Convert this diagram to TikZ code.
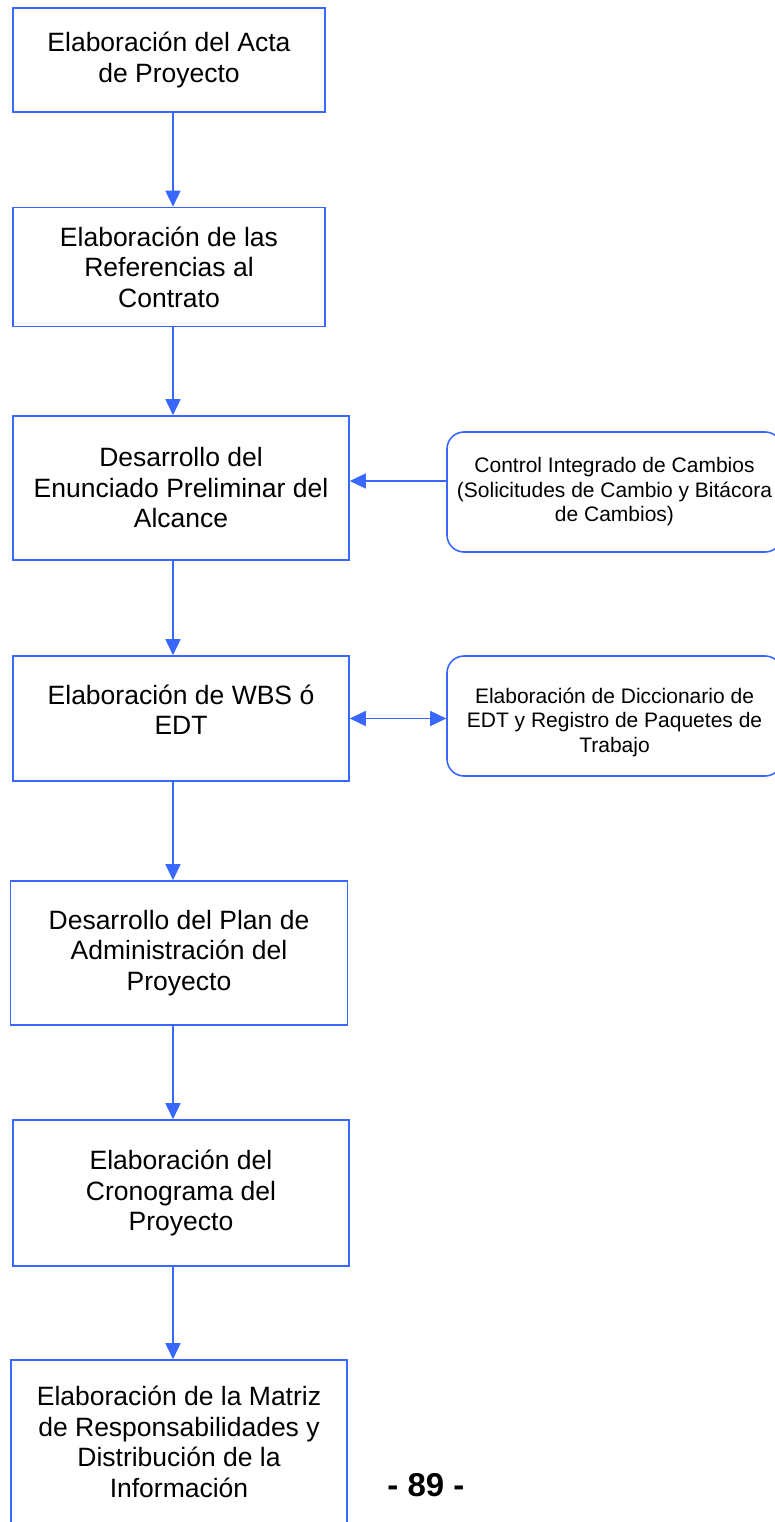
\documentclass[tikz,border=0pt]{standalone}
\usepackage{fontspec}
\setmainfont{Liberation Sans}
\usetikzlibrary{arrows.meta}
\definecolor{flowblue}{RGB}{56,104,255}
\begin{document}
\begin{tikzpicture}%
[x=1pt,y=-1pt,%
stepbox/.style={draw=flowblue, line width=1.6pt, align=center, inner sep=0pt,%
  font=\fontsize{26.5}{30.5}\selectfont},%
sidebox/.style={stepbox, rounded corners=17pt, minimum width=335pt, minimum height=120pt,%
  font=\fontsize{21}{24.5}\selectfont},%
flow/.style={draw=flowblue, line width=1.6pt, -{Triangle[length=16pt,width=15pt]}},%
twoway/.style={flow, {Triangle[length=16pt,width=15pt]}-{Triangle[length=16pt,width=15pt]}}]
\useasboundingbox (0,0) rectangle (775,1522);
\coordinate (spine) at (173,0);
% main sequence
\node[stepbox, minimum width=312pt, minimum height=104pt] (acta) at (169,60)
  {Elaboración del Acta\\de Proyecto};
\node[stepbox, minimum width=312pt, minimum height=119pt] (refs) at (169,267)
  {Elaboración de las\\Referencias al\\Contrato};
\node[stepbox, minimum width=336pt, minimum height=144pt] (alcance) at (181,488)
  {Desarrollo del\\Enunciado Preliminar del\\Alcance};
\node[stepbox, minimum width=336pt, minimum height=125pt] (wbs) at (181,718.5) {};
\node[stepbox, draw=none] at ([yshift=9pt]wbs.center) {Elaboración de WBS ó\\EDT};
\node[stepbox, minimum width=337pt, minimum height=144pt] (plan) at (179,953)
  {Desarrollo del Plan de\\Administración del\\Proyecto};
\node[stepbox, minimum width=336pt, minimum height=146pt] (crono) at (181,1193)
  {Elaboración del\\Cronograma del\\Proyecto};
\node[stepbox, minimum width=336pt, minimum height=164pt] (matriz) at (179,1442)
  {Elaboración de la Matriz\\de Responsabilidades y\\Distribución de la\\Información};
% side boxes
\node[sidebox] (cambios) at (614.5,492)
  {Control Integrado de Cambios\\(Solicitudes de Cambio y Bitácora\\de Cambios)};
\node[sidebox] (dicc) at (614.5,716) {};
\node[sidebox, draw=none] at ([yshift=-6pt]dicc.center)
  {Elaboración de Diccionario de\\EDT y Registro de Paquetes de\\Trabajo};
% connectors
\foreach \a/\b in {acta/refs, refs/alcance, alcance/wbs, wbs/plan, plan/crono, crono/matriz}
  \draw[flow] (\a.south -| spine) -- (\b.north -| spine);
\draw[flow] ([yshift=11pt]cambios.west) -- ([yshift=11pt]cambios.west -| alcance.east);
\draw[twoway] (wbs.east) -- (wbs.east -| dicc.west);
\node[font=\fontsize{33}{38}\selectfont\bfseries] (pagina) at (426,1485) {- 89 -};
\end{tikzpicture}
\end{document}
